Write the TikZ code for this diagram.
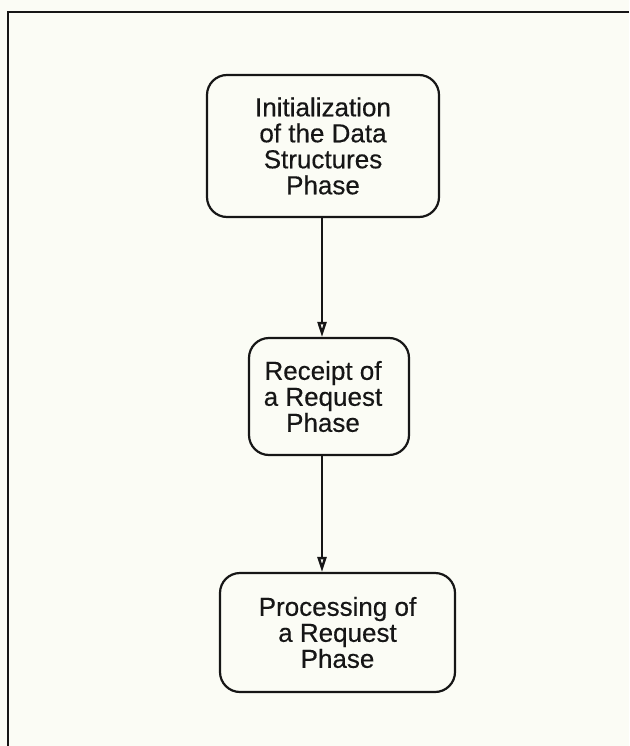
\documentclass[tikz,border=0pt]{standalone}
\usepackage{fontspec}
\setmainfont{Liberation Sans}
\newfontfamily\phasefont{Liberation Sans}[FakeBold=0.4]
\usetikzlibrary{arrows.meta}
\definecolor{paper}{RGB}{251,252,245}
\definecolor{ink}{RGB}{22,22,22}
\begin{document}
\begin{tikzpicture}[x=1pt,y=-1pt,
  phasebox/.style={draw=ink, line width=2.2pt, rounded corners=20pt, align=center,
    inner sep=0pt, font=\phasefont\fontsize{26}{26}\selectfont, text=ink},
  flow/.style={draw=ink, line width=1.5pt, -{Triangle[open,length=15pt,width=9pt,line width=2.4pt]}}]
\fill[paper] (0,0) rectangle (629,746);
\useasboundingbox (0,0) rectangle (629,746);
% frame (top and left sides visible)
\coordinate (ftl) at (8,12);
\coordinate (ftr) at (629,12);
\coordinate (fbl) at (8,746);
\draw[ink, line width=2.2pt] (ftr) -- (ftl) -- (fbl);
% phases
\node[phasebox, minimum width=232pt, minimum height=142pt] (a) at (323,146)
  {Initialization\\of the Data\\Structures\\Phase};
\node[phasebox, minimum width=160pt, minimum height=117pt] (b) at (329,396.5)
  {\hspace*{-12pt}Receipt of\\\hspace*{-12pt}a Request\\\hspace*{-12pt}Phase};
\node[phasebox, minimum width=235pt, minimum height=119pt] (c) at (337.5,632.5)
  {Processing of\\a Request\\Phase};
% connectors
\draw[flow] ([xshift=-1pt]a.south) -- ([xshift=-1pt]a.south |- b.north);
\draw[flow] ([xshift=-1pt]a.south |- b.south) -- ([xshift=-1pt]a.south |- c.north);
\end{tikzpicture}
\end{document}
